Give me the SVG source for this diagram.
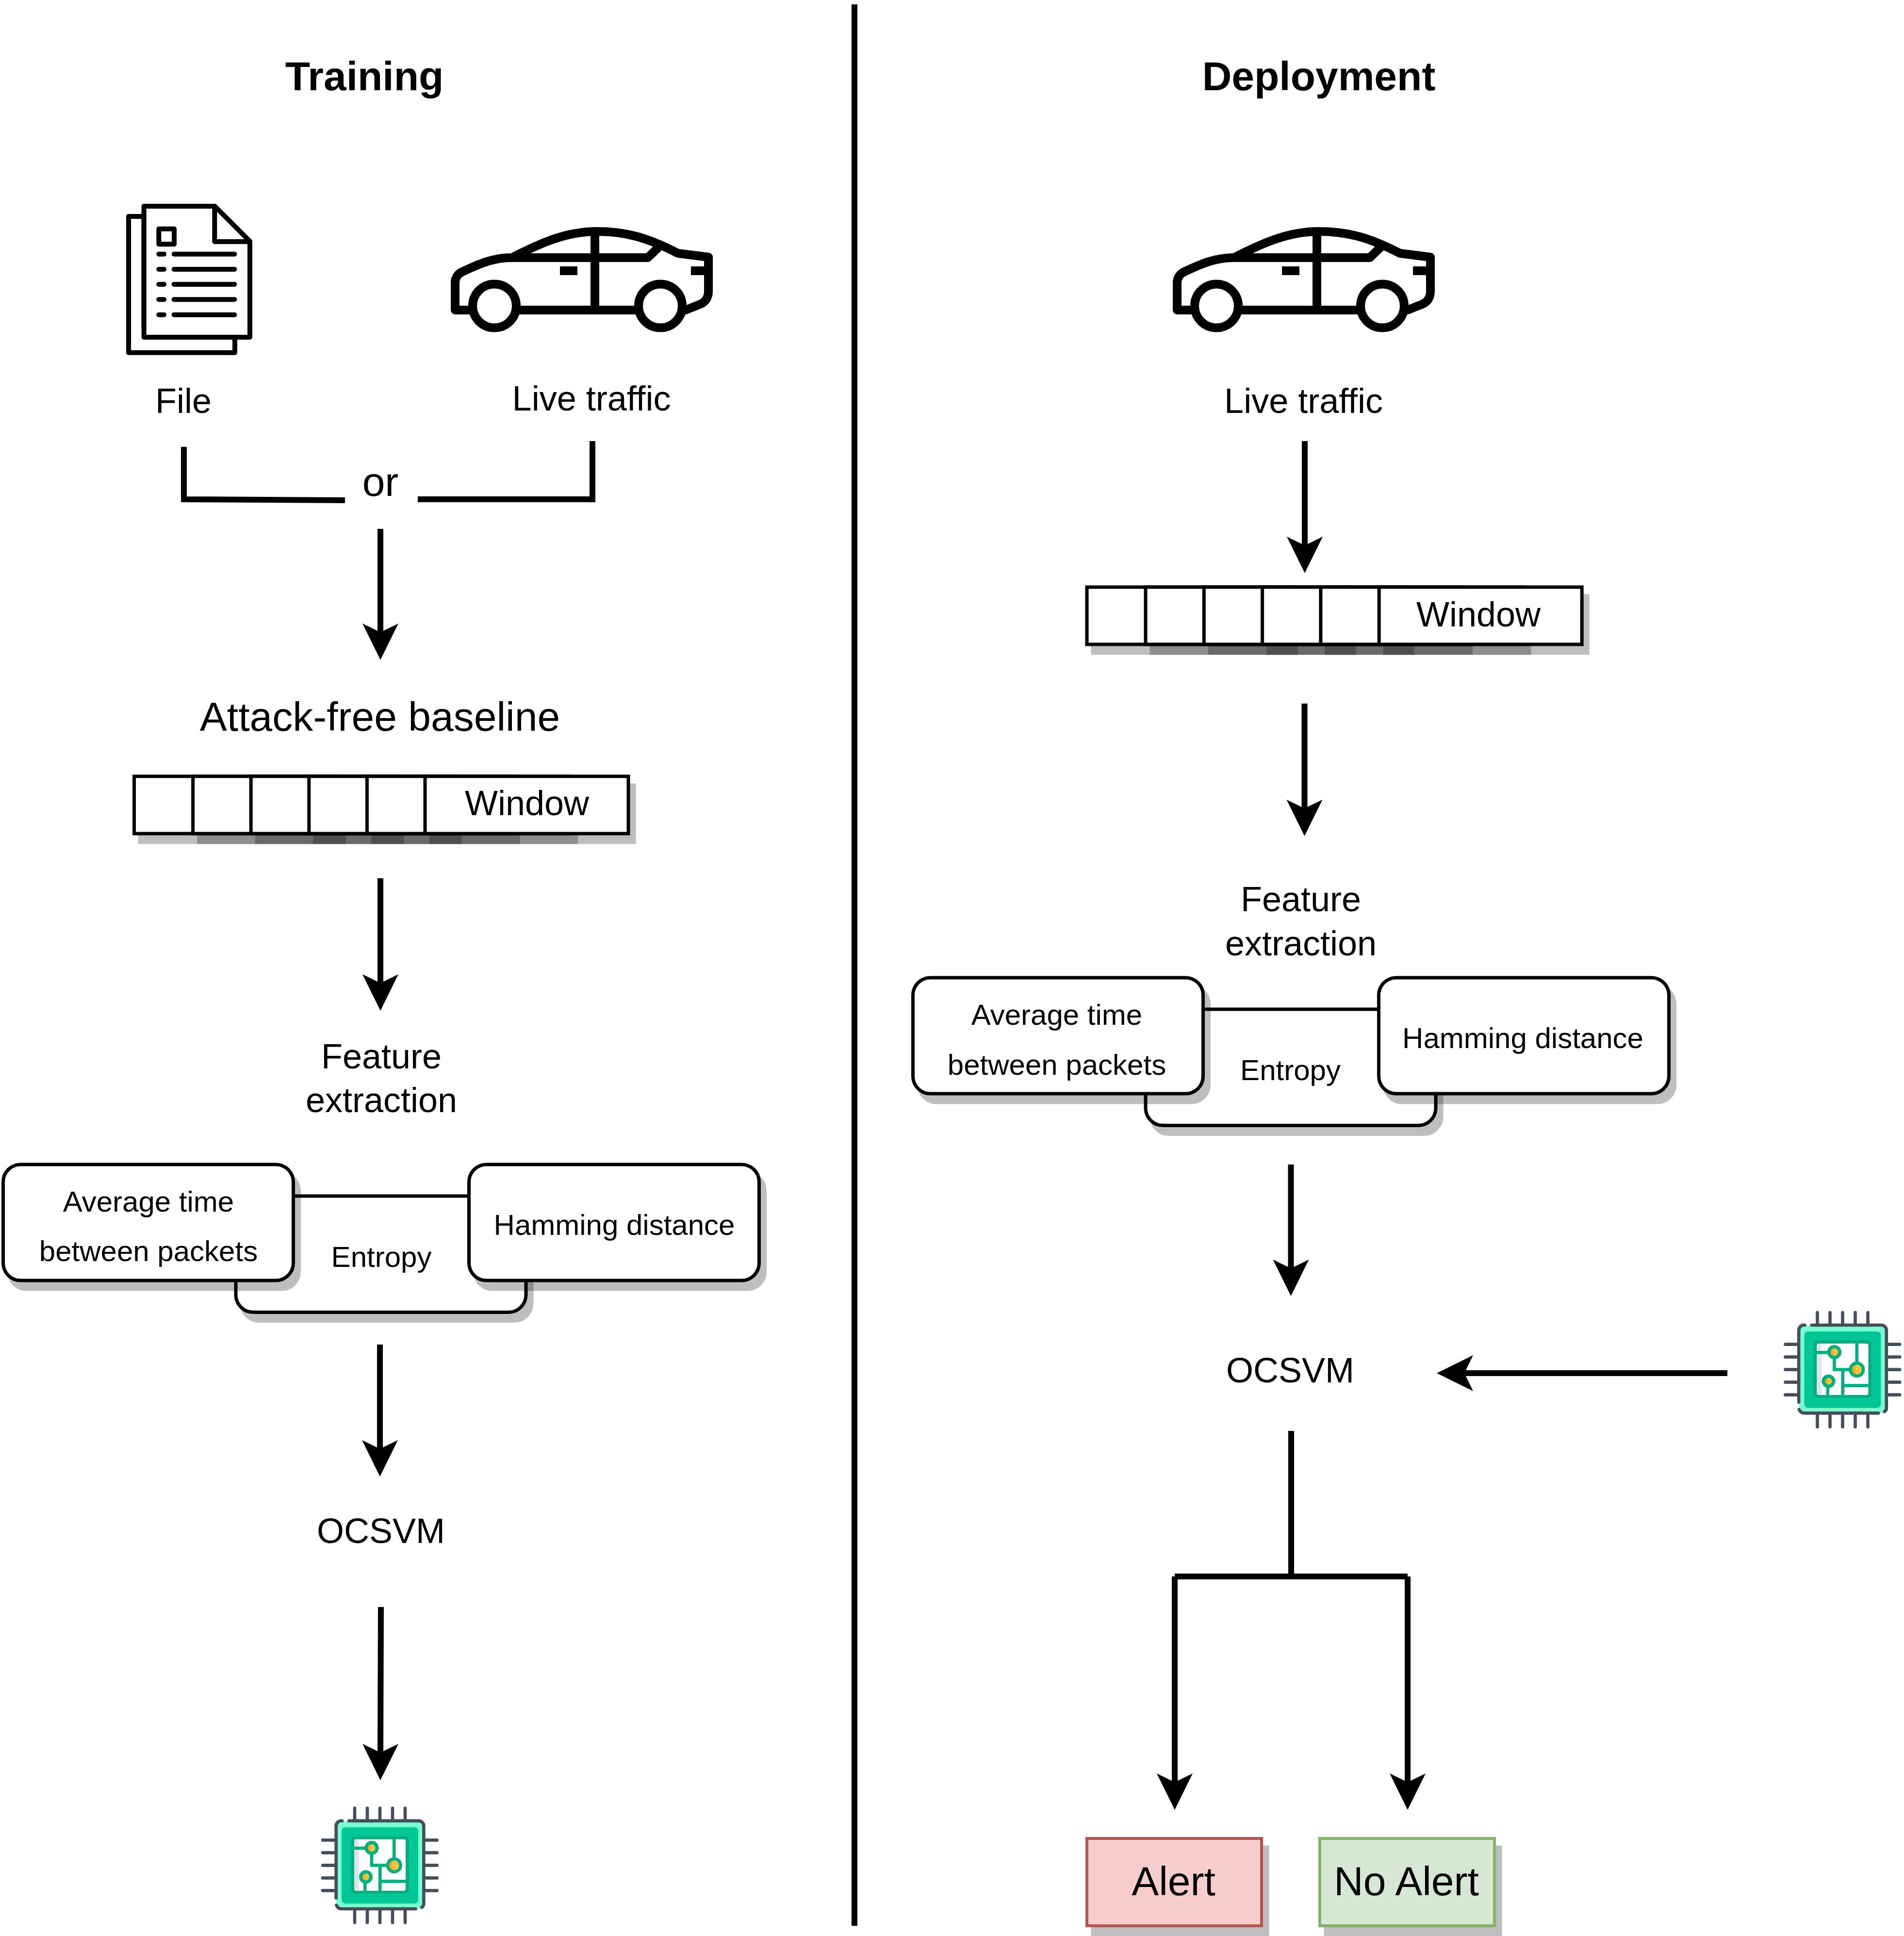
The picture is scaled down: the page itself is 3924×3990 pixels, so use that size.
<svg xmlns="http://www.w3.org/2000/svg" xmlns:xlink="http://www.w3.org/1999/xlink" width="3924" height="3990" viewBox="0 0 3924 3990">
<style>
text{font-family:"Liberation Sans",Arial,sans-serif;fill:#000;text-anchor:middle}
.t60{font-size:60px}.t72{font-size:72px}.t84{font-size:84px}.title{font-size:84px;font-weight:bold}
.sh{fill:#000;stroke:#000;stroke-width:7;opacity:.25}
.box{fill:#fff;stroke:#000;stroke-width:7}
.line{fill:none;stroke:#000;stroke-width:12}
.arrow{marker-end:url(#head)}
.ink{fill:none;stroke:#000;stroke-width:18;stroke-linejoin:round;stroke-linecap:butt}
.pg{fill:#fff;stroke:#000;stroke-width:30;stroke-linejoin:round}
.row{fill:none;stroke:#000;stroke-width:30;stroke-linecap:round}
.pin{fill:none;stroke:#454f5b;stroke-width:20;stroke-linecap:round}
.tr{fill:none;stroke:#00ae7e;stroke-width:20}
</style>
<defs>
<marker id="head" markerUnits="userSpaceOnUse" markerWidth="75" markerHeight="74" viewBox="0 0 75 74" refX="25" refY="37" orient="auto" overflow="visible"><path d="M0,0L18,37L0,74L75,37Z" fill="#000"/></marker>
<g id="car">
<path class="ink" d="M1055,531C1015,531 985,545 953,560C944,564 938,572 938,583V639H1413L1443,627C1455,622 1460,612 1460,600V530L1397,522C1335,490 1290,477 1230,477C1165,477 1110,503 1055,531H1335L1360,507"/>
<path class="ink" d="M1226,477V639"/>
<rect x="1154" y="549" width="36" height="18" fill="#000"/>
<rect x="1424" y="549" width="30" height="18" fill="#000"/>
<circle cx="1019" cy="630.5" r="45" fill="#fff" stroke="#000" stroke-width="18"/>
<circle cx="1361" cy="630.5" r="45" fill="#fff" stroke="#000" stroke-width="18"/>
</g>
<g id="chip">
<rect x="280" y="160" width="540" height="540" rx="30" fill="#78ffd2"/>
<rect x="312" y="197" width="474" height="473" rx="25" fill="#00c795"/>
<rect x="370" y="252" width="358" height="356" rx="25" fill="#00ae7e"/>
<rect x="390" y="272" width="318" height="318" rx="12" fill="#fff"/>
<path d="M402,272H418V590H402A12,12 0 0 1 390,578V284A12,12 0 0 1 402,272Z" fill="#dde4ee"/>
<path class="tr" d="M385,327H480M498,327V433H590M637,272V400M550,433V590M550,532H708M457,505V590"/>
<circle cx="498" cy="325" r="44" fill="#00ae7e"/><circle cx="498" cy="325" r="23" fill="#ffc440"/><path d="M498,302A23,23 0 0 0 498,348A36,36 0 0 1 498,302Z" fill="#f9a825"/>
<circle cx="637" cy="433" r="50" fill="#00ae7e"/><circle cx="637" cy="433" r="30" fill="#ffc440"/><path d="M637,403A30,30 0 0 0 637,463A42,42 0 0 1 637,403Z" fill="#f9a825"/>
<circle cx="462" cy="505" r="42" fill="#00ae7e"/><circle cx="462" cy="505" r="21" fill="#ffc440"/><path d="M462,484A21,21 0 0 0 462,526A32,32 0 0 1 462,484Z" fill="#f9a825"/>
<path class="pin" d="M358,158H788A32,32 0 0 1 820,190V670Q820,685 808,693M770,702H310Q290,702 280,680M278,635V190A32,32 0 0 1 315,158"/>
<path class="pin" d="M393,80V158M471,80V158M549,80V158M627,80V158M705,80V158M393,702V787M471,702V787M549,702V787M627,702V787M705,702V787M195,277H278M195,355H278M195,433H278M195,511H278M195,589H278M820,277H902M820,355H902M820,433H902M820,511H902M820,589H902"/>
</g>
</defs>
<rect width="3924" height="3990" fill="#fff"/>
<g id="connectors">
<path class="line" d="M1761,9V3969"/>
<path class="line" d="M379,921V1029L711,1031"/>
<path class="line" d="M1221,909V1029H861"/>
<path class="line arrow" d="M784,1090V1310"/>
<path class="line arrow" d="M784,1810V2033"/>
<path class="line arrow" d="M783,2771V2993"/>
<path class="line arrow" d="M785,3312L784,3619"/>
<path class="line arrow" d="M2689,909V1131"/>
<path class="line arrow" d="M2688.5,1450V1673"/>
<path class="line arrow" d="M2660.5,2400V2621"/>
<path class="line arrow" d="M3560,2830H3011"/>
<path class="line" d="M2661,2949V3249M2421,3249H2901"/>
<path class="line arrow" d="M2421,3249V3680"/>
<path class="line arrow" d="M2901,3249V3680"/>
</g>
<g id="title-training"><text class="title" x="751" y="186">Training</text></g>
<g id="title-deployment"><text class="title" x="2718" y="186">Deployment</text></g>
<g id="file">
<g transform="translate(250,410) scale(.3333)">
<path class="pg" d="M140,108H45V950H702V800H140Z"/>
<path class="pg" d="M140,45H578L795,262V855H140Z"/>
<path class="pg" d="M577,45V264H795" style="fill:none"/>
<rect class="pg" x="232" y="185" width="95" height="95"/>
<path class="row" d="M232,341H264M326,341H700M232,435H264M326,435H700M232,528H264M326,528H700M232,622H264M326,622H700M232,716H264M326,716H700"/>
</g>
<text class="t72" x="378" y="851">File</text>
</g>
<g id="car-training"><use xlink:href="#car" href="#car"/><text class="t72" x="1219" y="846">Live traffic</text></g>
<g id="or"><text class="t84" x="784" y="1022">or</text></g>
<g id="baseline"><text class="t84" x="783" y="1506">Attack-free baseline</text></g>
<g id="window-training">
<rect class="sh" x="288.5" y="1618" width="420.5" height="118"/><rect class="sh" x="409.6" y="1618" width="419" height="118"/><rect class="sh" x="529.2" y="1618" width="419" height="118"/><rect class="sh" x="648.8" y="1618" width="419" height="118"/><rect class="sh" x="768.4" y="1618" width="419" height="118"/><rect class="sh" x="888" y="1618" width="419" height="118"/>
<rect class="box" x="276.5" y="1600" width="420.5" height="118"/><rect class="box" x="397.6" y="1600" width="419" height="118"/><rect class="box" x="517.2" y="1600" width="419" height="118"/><rect class="box" x="636.8" y="1600" width="419" height="118"/><rect class="box" x="756.4" y="1600" width="419" height="118"/><rect class="box" x="876" y="1600" width="419" height="118"/>
<text class="t72" x="1086" y="1680">Window</text>
</g>
<g id="feature-label-training"><text class="t72" x="786" y="2202">Feature</text><text class="t72" x="786" y="2292">extraction</text></g>
<g id="entropy-training"><rect class="sh" x="498" y="2483" width="598" height="239.5" rx="36"/><rect class="box" x="486" y="2465" width="598" height="239.5" rx="36"/><text class="t60" x="786" y="2611">Entropy</text></g>
<g id="avg-training"><rect class="sh" x="18.5" y="2418" width="598" height="239" rx="36"/><rect class="box" x="6.5" y="2400" width="598" height="239" rx="36"/><text class="t60" x="306" y="2497">Average time</text><text class="t60" x="306" y="2599">between packets</text></g>
<g id="hamming-training"><rect class="sh" x="978.5" y="2418" width="598" height="239" rx="36"/><rect class="box" x="966.5" y="2400" width="598" height="239" rx="36"/><text class="t60" x="1266" y="2545">Hamming distance</text></g>
<g id="ocsvm-training"><text class="t72" x="785" y="3180">OCSVM</text></g>
<g id="chip-training" transform="translate(600,3700) scale(.3333)"><use xlink:href="#chip" href="#chip"/></g>
<g id="car-deployment"><use xlink:href="#car" href="#car" x="1488"/><text class="t72" x="2686.5" y="851">Live traffic</text></g>
<g id="window-deployment">
<rect class="sh" x="2252" y="1228" width="419.5" height="118" /><rect class="sh" x="2373" y="1228" width="418" height="118"/><rect class="sh" x="2493.3" y="1228" width="418" height="118"/><rect class="sh" x="2613.6" y="1228" width="418" height="118"/><rect class="sh" x="2733.9" y="1228" width="418" height="118"/><rect class="sh" x="2854.2" y="1228" width="418" height="118"/>
<rect class="box" x="2240" y="1210" width="419.5" height="118"/><rect class="box" x="2361" y="1210" width="418" height="118"/><rect class="box" x="2481.3" y="1210" width="418" height="118"/><rect class="box" x="2601.6" y="1210" width="418" height="118"/><rect class="box" x="2721.9" y="1210" width="418" height="118"/><rect class="box" x="2842.2" y="1210" width="418" height="118"/>
<text class="t72" x="3047" y="1291">Window</text>
</g>
<g id="feature-label-deployment"><text class="t72" x="2681" y="1878">Feature</text><text class="t72" x="2681" y="1969">extraction</text></g>
<g id="entropy-deployment"><rect class="sh" x="2373" y="2098" width="598" height="239.5" rx="36"/><rect class="box" x="2361" y="2080" width="598" height="239.5" rx="36"/><text class="t60" x="2659.5" y="2226">Entropy</text></g>
<g id="avg-deployment"><rect class="sh" x="1893.5" y="2033" width="598" height="239" rx="36"/><rect class="box" x="1881.5" y="2015" width="598" height="239" rx="36"/><text class="t60" x="2178" y="2112">Average time</text><text class="t60" x="2178" y="2215">between packets</text></g>
<g id="hamming-deployment"><rect class="sh" x="2853.5" y="2033" width="598" height="239" rx="36"/><rect class="box" x="2841.5" y="2015" width="598" height="239" rx="36"/><text class="t60" x="3138.5" y="2160">Hamming distance</text></g>
<g id="ocsvm-deployment"><text class="t72" x="2659" y="2849">OCSVM</text></g>
<g id="chip-deployment" transform="translate(3614.5,2678.33) scale(.3333)"><use xlink:href="#chip" href="#chip"/></g>
<g id="alert"><rect class="sh" x="2252" y="3807" width="360" height="180"/><rect x="2240" y="3789" width="360" height="180" fill="#f8cecc" stroke="#b85450" stroke-width="6"/><text class="t84" x="2418.5" y="3906">Alert</text></g>
<g id="no-alert"><rect class="sh" x="2732" y="3807" width="360" height="180"/><rect x="2720" y="3789" width="360" height="180" fill="#d5e8d4" stroke="#82b366" stroke-width="6"/><text class="t84" x="2898.5" y="3906">No Alert</text></g>
</svg>
